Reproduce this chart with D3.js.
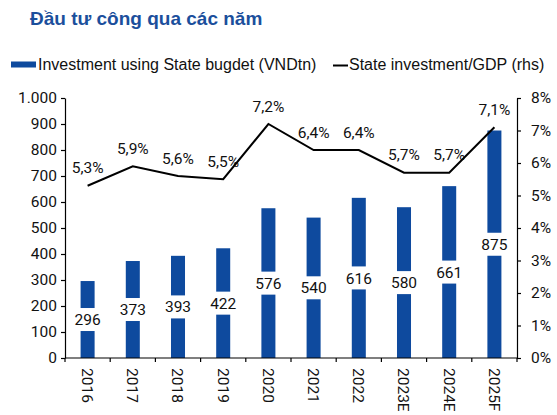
<!DOCTYPE html>
<html><head><meta charset="utf-8">
<script src="https://cdn.jsdelivr.net/npm/d3@7"></script>
<style>
html,body{margin:0;padding:0;background:#fff;}
svg{display:block;}
</style></head>
<body>
<svg id="chart" width="557" height="415"></svg>
<script>
const categories = ["2016","2017","2018","2019","2020","2021","2022","2023E","2024E","2025F"];
const investment = [296,373,393,422,576,540,616,580,661,875];
const gdpShare = [5.3,5.9,5.6,5.5,7.2,6.4,6.4,5.7,5.7,7.1];
const leftTicks = [0,100,200,300,400,500,600,700,800,900,1000];
const rightTicks = [0,1,2,3,4,5,6,7,8];
const titleText = "Đầu tư công qua các năm";
const legendBar = "Investment using State bugdet (VNDtn)";
const legendLine = "State investment/GDP (rhs)";

const svg = d3.select("#chart");
const M = {left:65, right:517, top:98, bottom:358};
const barColor = "#0E4A9E";
const numFont = "Roboto, 'Noto Sans', sans-serif";
const txtFont = "'Liberation Sans', Arial, sans-serif";
const vi = d3.formatLocale({decimal:",", thousands:".", grouping:[3], currency:["",""]});
const fmtThousands = vi.format(",");
const fmtPct = vi.format(",.1f");

const x = d3.scaleBand().domain(categories).range([M.left, M.right]).padding(0);
const y = d3.scaleLinear().domain([0,1000]).range([M.bottom, M.top]);
const y2 = d3.scaleLinear().domain([0,8]).range([M.bottom, M.top]);
const barW = x.bandwidth()*0.31;

// title
svg.append("text").attr("x",30).attr("y",25)
  .attr("font-family",txtFont).attr("font-weight","bold").attr("font-size",19)
  .attr("fill","#1B4F9C").text(titleText);

// legend
svg.append("rect").attr("x",11).attr("y",61.5).attr("width",25).attr("height",6).attr("fill",barColor);
svg.append("text").attr("x",38).attr("y",70).attr("font-family",txtFont).attr("font-size",16)
  .attr("fill","#111").text(legendBar);
svg.append("line").attr("x1",333).attr("x2",348).attr("y1",65.5).attr("y2",65.5)
  .attr("stroke","#000").attr("stroke-width",2);
svg.append("text").attr("x",349).attr("y",70).attr("font-family",txtFont).attr("font-size",16)
  .attr("fill","#111").text(legendLine);

// bars
svg.append("g").selectAll("rect").data(categories).join("rect")
  .attr("x",(d)=>x(d)+x.bandwidth()/2-barW/2)
  .attr("width",barW)
  .attr("y",(d,i)=>y(investment[i]))
  .attr("height",(d,i)=>y(0)-y(investment[i]))
  .attr("fill",barColor);

// bar labels with white boxes
const bl = svg.append("g");
categories.forEach((c,i)=>{
  const cx = x(c)+x.bandwidth()/2;
  const cy = (y(investment[i])+y(0))/2;
  const g = bl.append("g");
  const t = g.append("text").attr("x",cx).attr("y",cy).attr("dy","0.36em")
    .attr("text-anchor","middle").attr("font-family",numFont).attr("font-size",15.5)
    .attr("fill","#111").text(investment[i]);
  const bb = t.node().getBBox();
  g.insert("rect","text").attr("x",bb.x-3).attr("width",bb.width+6)
    .attr("y",cy-11.5).attr("height",23).attr("fill","#fff");
});

// axes
const leftAxis = svg.append("g").attr("transform",`translate(${M.left},0)`)
  .call(d3.axisLeft(y).tickValues(leftTicks).tickFormat(fmtThousands).tickSize(4).tickSizeOuter(0));
const rightAxis = svg.append("g").attr("transform",`translate(${M.right},0)`)
  .call(d3.axisRight(y2).tickValues(rightTicks).tickFormat(d=>d+"%").tickSize(4).tickSizeOuter(0));
[leftAxis,rightAxis].forEach(a=>{
  a.selectAll("text").attr("font-family",numFont).attr("font-size",15.5).attr("fill","#111");
  a.selectAll("line,path").attr("stroke","#000").attr("stroke-width",1.2);
});
leftAxis.selectAll("text").attr("x",-8);
rightAxis.selectAll("text").attr("x",14);

// bottom axis
const bottom = svg.append("g");
bottom.append("line").attr("x1",M.left).attr("x2",M.right).attr("y1",y(0)).attr("y2",y(0))
  .attr("stroke","#000").attr("stroke-width",1.2);
const bounds = categories.map(c=>x(c)).concat([x.range()[1]]);
bottom.selectAll("line.tk").data(bounds).join("line").attr("class","tk")
  .attr("x1",d=>d).attr("x2",d=>d).attr("y1",y(0)).attr("y2",y(0)+4)
  .attr("stroke","#000").attr("stroke-width",1.2);
bottom.selectAll("text").data(categories).join("text")
  .attr("transform",d=>`translate(${x(d)+x.bandwidth()/2},${y(0)+10}) rotate(90)`)
  .attr("dy","0.36em").attr("text-anchor","start")
  .attr("font-family",numFont).attr("font-size",15.5).attr("fill","#111")
  .text(d=>d);

// line labels
svg.append("g").selectAll("text").data(categories).join("text")
  .attr("x",d=>x(d)+x.bandwidth()/2)
  .attr("y",(d,i)=>y2(gdpShare[i])-12.5)
  .attr("text-anchor","middle").attr("font-family",numFont).attr("font-size",15.5)
  .attr("fill","#111").text((d,i)=>fmtPct(gdpShare[i])+"%");

// line
const line = d3.line().x(d=>x(d.c)+x.bandwidth()/2).y(d=>y2(d.v));
svg.append("path").datum(categories.map((c,i)=>({c,v:gdpShare[i]})))
  .attr("d",line).attr("fill","none").attr("stroke","#000").attr("stroke-width",2);
</script>
</body></html>
